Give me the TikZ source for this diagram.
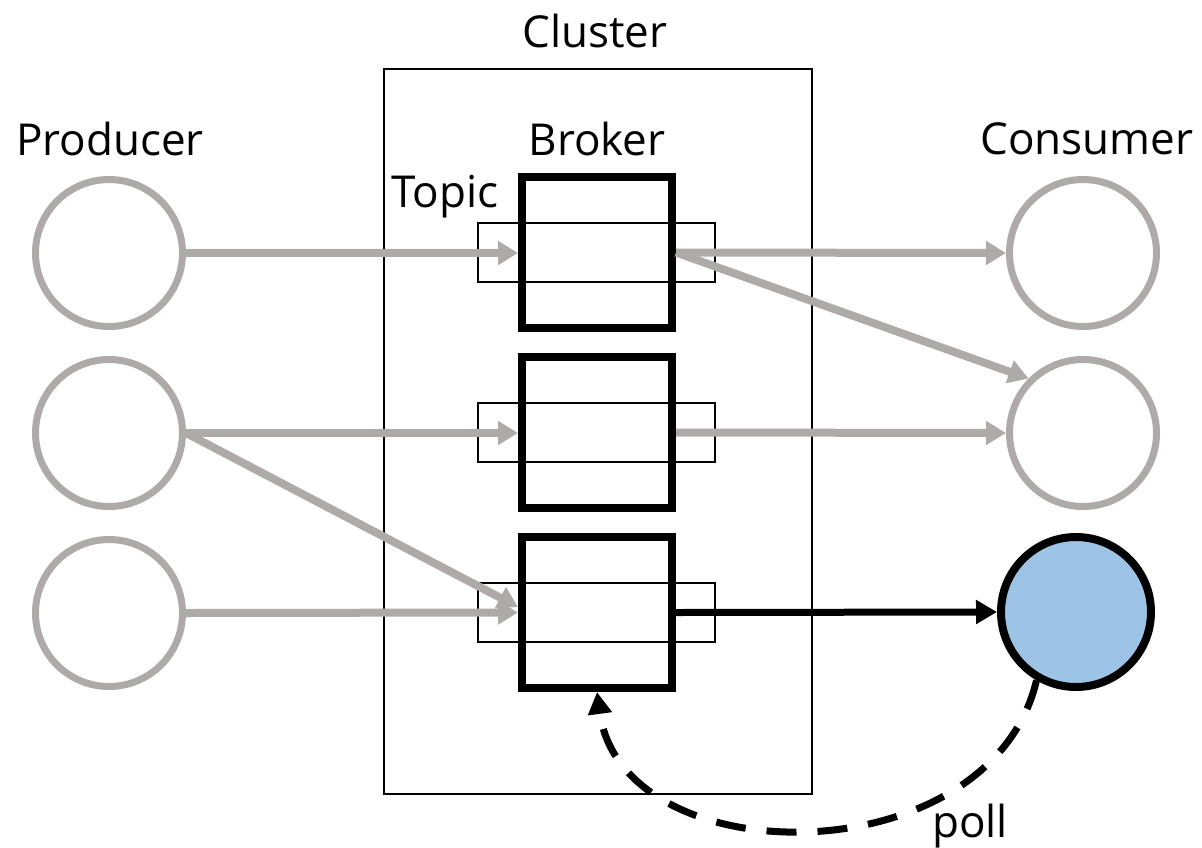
\documentclass[tikz,border=0pt]{standalone}
\usepackage{fontspec}
\setmainfont{Open Sans}
\usetikzlibrary{arrows.meta}
\definecolor{flowgray}{RGB}{174,170,170}
\definecolor{pollblue}{RGB}{157,195,230}
\tikzset{
  x=1pt, y=-1pt,
  lbl/.style={font=\fontsize{44}{50}\selectfont, inner sep=0pt, anchor=base},
  client/.style={circle, draw=flowgray, line width=7pt, minimum size=147pt, inner sep=0pt},
  active/.style={circle, draw=black, fill=pollblue, line width=8pt, minimum size=150pt, inner sep=0pt},
  brokerbox/.style={draw=black, line width=8pt, minimum width=150pt, minimum height=151pt, inner sep=0pt},
  topicbar/.style={draw=black, line width=2pt, minimum width=237pt, minimum height=59pt, inner sep=0pt},
  flow/.style={draw=flowgray, line width=8pt, -{Triangle[length=20pt,width=23pt]}},
  delivery/.style={draw=black, line width=7pt, -{Triangle[length=21pt,width=23pt]}},
  pollpath/.style={draw=black, line width=7pt, dash pattern=on 30pt off 21pt, -{Triangle[length=22pt,width=23pt]}},
}
\begin{document}
\begin{tikzpicture}
\useasboundingbox (0,0) rectangle (1202,847);

% cluster frame
\node[draw=black, line width=2pt, minimum width=428pt, minimum height=725pt, inner sep=0pt] (cluster) at (598,431.5) {};
\node[lbl] (clusterlbl) at (595,47) {Cluster};

% topic partitions behind the brokers
\node[topicbar] (t1) at (596.5,252.5) {};
\node[topicbar] (t2) at (596.5,432.5) {};
\node[topicbar] (t3) at (596.5,612) {};

% brokers
\node[brokerbox] (b1) at (597,252.5) {};
\node[brokerbox] (b2) at (597,432.5) {};
\node[brokerbox] (b3) at (597,612.5) {};

% producers and consumers
\node[client] (p1) at (109,253) {};
\node[client] (p2) at (109,433) {};
\node[client] (p3) at (109,613) {};
\node[client] (c1) at (1083,253) {};
\node[client] (c2) at (1083,433) {};
\node[active] (c3) at (1076,612) {};

% labels
\node[lbl] (plbl) at (110,155) {Producer};
\node[lbl] (blbl) at (597,155) {Broker};
\node[lbl] (clbl) at (1087,154) {Consumer};
\node[lbl] (tlbl) at (445,207) {Topic};
\node[lbl] (polllbl) at (970,837) {poll};

% message flows
\draw[flow] (p1.east) -- (b1.west |- p1.east);
\draw[flow] (p2.east) -- (b2.west |- p2.east);
\draw[flow] (p2.east) -- ([yshift=5.5pt]b3.west);
\draw[flow] (p3.east) -- (b3.west);
\draw[flow] (b1.east) -- (c1.west);
\draw[flow] (b1.east) -- (c2.135);
\draw[flow] (b2.east) -- (c2.west);
\draw[delivery] (b3.east) -- (c3.west);

% consumer polls the broker
\draw[pollpath] (c3.240) .. controls (990,877) and (622,877) .. (b3.south);
\end{tikzpicture}
\end{document}
